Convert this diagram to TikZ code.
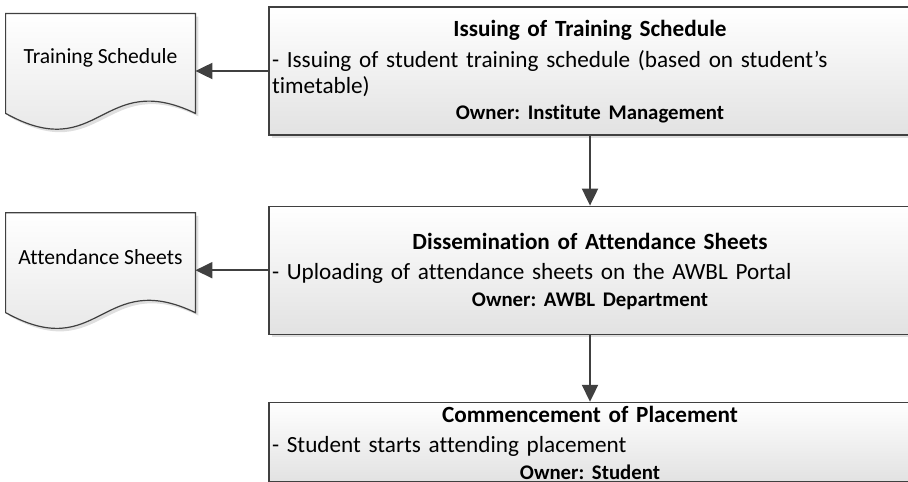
\documentclass[tikz,border=0pt]{standalone}
\usepackage{fontspec}
\setmainfont{Carlito}[Ligatures=NoCommon]
\frenchspacing
\usetikzlibrary{shapes,arrows.meta,positioning,shadows,backgrounds}
\definecolor{edgecolor}{RGB}{64,64,64}
\definecolor{shadecolor}{RGB}{226,226,226}

\begin{document}
\begin{tikzpicture}[
    node distance=35pt and 36.5pt,
    procbox/.style={rectangle, draw=edgecolor, line width=0.6pt, top color=white, bottom color=shadecolor, minimum width=321pt, inner sep=0pt, drop shadow={shadow xshift=1.5pt, shadow yshift=-1.5pt, opacity=0.25}},
    proctext/.style={text width=318pt, align=left, inner sep=0pt, yshift=-0.5pt, font=\fontsize{11.6}{13}\selectfont},
    docbox/.style={rectangle, minimum width=94.5pt, minimum height=44pt, inner sep=0pt, font=\fontsize{10.8}{12}\selectfont},
    docline/.style={draw=edgecolor, line width=0.6pt, top color=white, bottom color=shadecolor, drop shadow={shadow xshift=1.5pt, shadow yshift=-1.5pt, opacity=0.25}},
    arrow/.style={-{Triangle[length=8.5pt,width=8pt]}, line width=1pt, draw=edgecolor}
]
\useasboundingbox (0,0) rectangle (454pt,-240.5pt);

% Process steps
\node[procbox, minimum height=64pt] (iss) at (295pt,-35.5pt) {};
\node[proctext] (isstxt) at (iss) {{\centering\bfseries Issuing of Training Schedule\par}\vspace{2.3pt}
- Issuing of student training schedule (based on student’s\newline timetable)\par
{\centering\bfseries\fontsize{10.4}{13.3}\selectfont Owner: Institute Management\par}};

\node[procbox, minimum height=64pt, below=of iss] (dis) {};
\node[proctext] (distxt) at (dis) {{\centering\bfseries Dissemination of Attendance Sheets\par}\vspace{2.3pt}
- Uploading of attendance sheets on the AWBL Portal\par
{\centering\bfseries\fontsize{10.4}{13.3}\selectfont Owner: AWBL Department\par}};

\node[procbox, minimum height=39.5pt, below=33.5pt of dis] (com) {};
\node[proctext] (comtxt) at (com) {{\centering\bfseries Commencement of Placement\par}\vspace{2.3pt}
- Student starts attending placement\par
{\centering\bfseries\fontsize{10.4}{13.3}\selectfont Owner: Student\par}};

% Documents
\node[docbox, left=of iss, yshift=6.5pt] (trs) {Training Schedule};
\node[docbox, left=of dis, yshift=6.5pt] (att) {Attendance Sheets};

\begin{scope}[on background layer]
\draw[docline] (trs.north west) -- (trs.north east) -- ([yshift=-5.5pt]trs.south east)
    .. controls +(-47pt,22.5pt) and +(47pt,-26pt) .. ([yshift=-5.5pt]trs.south west) -- cycle;
\draw[docline] (att.north west) -- (att.north east) -- ([yshift=-5.5pt]att.south east)
    .. controls +(-47pt,22.5pt) and +(47pt,-26pt) .. ([yshift=-5.5pt]att.south west) -- cycle;
\end{scope}

% Arrows
\draw[arrow] (iss.west) -- (iss.west -| trs.east);
\draw[arrow] (dis.west) -- (dis.west -| att.east);
\draw[arrow] (iss.south) -- (dis.north);
\draw[arrow] (dis.south) -- (com.north);
\coordinate (comout) at ([yshift=-4pt]com.south);
\draw[line width=1pt, draw=edgecolor] (com.south) -- (comout);

\end{tikzpicture}
\end{document}
